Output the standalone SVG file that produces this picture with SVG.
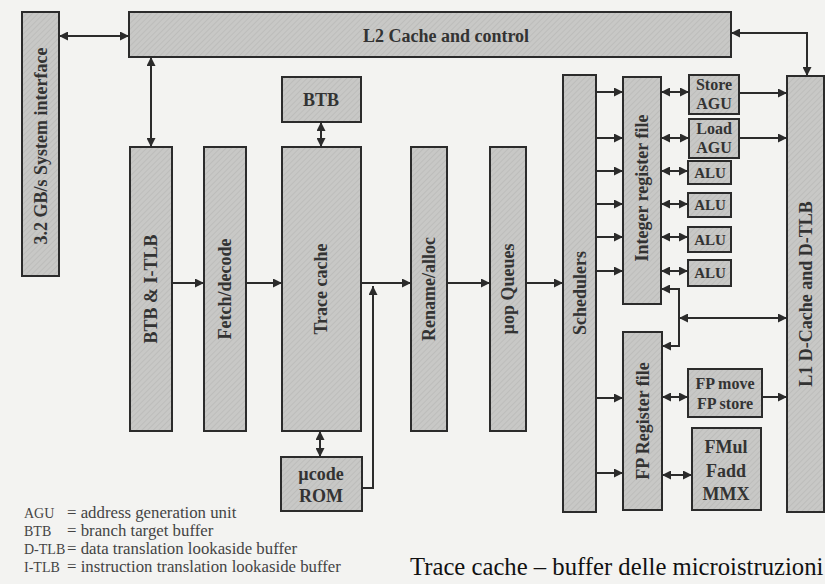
<svg xmlns="http://www.w3.org/2000/svg" width="825" height="584" viewBox="0 0 825 584">
<style>
.box{fill:url(#hatch);stroke:#2b2b2b;stroke-width:2}
.t{font-family:"Liberation Serif","Times New Roman",serif;font-weight:bold;font-size:18px;fill:#333;text-anchor:middle}
.s{font-size:15px}
.m{font-size:16px}
.c{stroke:#2b2b2b;stroke-width:2;fill:none}
.a1{marker-end:url(#ah)}
.a2{marker-start:url(#ah);marker-end:url(#ah)}
.leg{font-family:"Liberation Serif","Times New Roman",serif;font-size:16.8px;fill:#444}
.ab{font-size:14px}
.cap{font-family:"Liberation Serif","Times New Roman",serif;font-size:24.7px;fill:#111}
</style>
<defs>
<pattern id="hatch" width="4" height="4" patternUnits="userSpaceOnUse" patternTransform="rotate(45)">
<rect width="4" height="4" fill="#c8c8c6"/>
<line x1="0" y1="0" x2="0" y2="4" stroke="#b6b6b4" stroke-width="1.2"/>
</pattern>
<marker id="ah" viewBox="0 0 10 10" refX="10" refY="5" markerWidth="10" markerHeight="9" markerUnits="userSpaceOnUse" orient="auto-start-reverse">
<path d="M0,0 L10,5 L0,10 z" fill="#2b2b2b"/>
</marker>
</defs>
<rect width="825" height="584" fill="#f3f3f1"/>

<g id="sysif"><rect class="box" x="22" y="12" width="37" height="264"/><text class="t" transform="translate(41,146) rotate(-90)" dy="0.35em">3.2 GB/s System interface</text></g>
<g id="l2"><rect class="box" x="129" y="12" width="602" height="45"/><text class="t" x="446" y="42">L2 Cache and control</text></g>
<g id="btb"><rect class="box" x="282" y="77" width="79" height="45"/><text class="t" x="321" y="106">BTB</text></g>
<g id="itlb"><rect class="box" x="130" y="147" width="42" height="284"/><text class="t" transform="translate(151,289) rotate(-90)" dy="0.35em">BTB &amp; I-TLB</text></g>
<g id="fetch"><rect class="box" x="204" y="147" width="42" height="284"/><text class="t" transform="translate(225,289) rotate(-90)" dy="0.35em">Fetch/decode</text></g>
<g id="trace"><rect class="box" x="282" y="147" width="79" height="284"/><text class="t" transform="translate(321,289) rotate(-90)" dy="0.35em">Trace cache</text></g>
<g id="rom"><rect class="box" x="281" y="457" width="81" height="54"/><text class="t" x="321" y="480">µcode</text><text class="t" x="321" y="502">ROM</text></g>
<g id="rename"><rect class="box" x="411" y="147" width="36" height="284"/><text class="t" transform="translate(429,289) rotate(-90)" dy="0.35em">Rename/alloc</text></g>
<g id="queues"><rect class="box" x="490" y="147" width="36" height="284"/><text class="t" transform="translate(508,289) rotate(-90)" dy="0.35em">µop Queues</text></g>
<g id="sched"><rect class="box" x="563" y="75" width="33" height="437"/><text class="t" transform="translate(580,293) rotate(-90)" dy="0.35em">Schedulers</text></g>
<g id="intreg"><rect class="box" x="623" y="77" width="38" height="227"/><text class="t" transform="translate(642,188) rotate(-90)" dy="0.35em">Integer register file</text></g>
<g id="storeagu"><rect class="box" x="689" y="75" width="50" height="39"/><text class="t m" x="714" y="90">Store</text><text class="t m" x="714" y="109">AGU</text></g>
<g id="loadagu"><rect class="box" x="689" y="119" width="50" height="39"/><text class="t m" x="714" y="134">Load</text><text class="t m" x="714" y="153">AGU</text></g>
<g id="alu1"><rect class="box" x="688" y="161" width="43" height="23"/><text class="t s" x="710" y="178">ALU</text></g>
<g id="alu2"><rect class="box" x="688" y="193" width="43" height="24"/><text class="t s" x="710" y="210">ALU</text></g>
<g id="alu3"><rect class="box" x="688" y="227" width="43" height="25"/><text class="t s" x="710" y="245">ALU</text></g>
<g id="alu4"><rect class="box" x="688" y="260" width="43" height="26"/><text class="t s" x="710" y="278">ALU</text></g>
<g id="fpreg"><rect class="box" x="623" y="332" width="39" height="178"/><text class="t" transform="translate(643,421) rotate(-90)" dy="0.35em">FP Register file</text></g>
<g id="fpmove"><rect class="box" x="688" y="369" width="74" height="48"/><text class="t m" x="725" y="389">FP move</text><text class="t m" x="725" y="409">FP store</text></g>
<g id="fmul"><rect class="box" x="692" y="428" width="69" height="82"/><text class="t" x="726" y="453">FMul</text><text class="t" x="726" y="477">Fadd</text><text class="t" x="726" y="500">MMX</text></g>
<g id="l1"><rect class="box" x="787" y="76" width="37" height="436"/><text class="t" transform="translate(806,294) rotate(-90)" dy="0.35em">L1 D-Cache and D-TLB</text></g>

<g id="connectors">
<path class="c a2" d="M59,36 H129"/>
<path class="c a2" d="M151,57 V147"/>
<path class="c a2" d="M321,122 V147"/>
<path class="c a1" d="M172,283 H204"/>
<path class="c a1" d="M246,283 H282"/>
<path class="c a1" d="M361,283 H411"/>
<path class="c a1" d="M362,488 H373 V286"/>
<path class="c a2" d="M320,431 V457"/>
<path class="c a1" d="M447,283 H490"/>
<path class="c a1" d="M526,283 H563"/>
<path class="c a1" d="M596,92 H623"/>
<path class="c a1" d="M596,138 H623"/>
<path class="c a1" d="M596,171 H623"/>
<path class="c a1" d="M596,204 H623"/>
<path class="c a1" d="M596,237 H623"/>
<path class="c a1" d="M596,271 H623"/>
<path class="c a2" d="M661,92 H689"/>
<path class="c a2" d="M661,138 H689"/>
<path class="c a2" d="M661,171 H688"/>
<path class="c a2" d="M661,204 H688"/>
<path class="c a2" d="M661,237 H688"/>
<path class="c a2" d="M661,271 H688"/>
<path class="c a1" d="M739,93 H787"/>
<path class="c a1" d="M739,138 H787"/>
<path class="c a2" d="M731,33 H807 V76"/>
<path class="c a2" d="M661,289 H679 V346 H662"/>
<path class="c a2" d="M679,318 H787"/>
<path class="c a1" d="M596,398 H623"/>
<path class="c a1" d="M596,473 H623"/>
<path class="c a2" d="M662,397 H688"/>
<path class="c a2" d="M662,475 H692"/>
<path class="c a1" d="M762,397 H787"/>
</g>

<g id="legend">
<text class="leg ab" x="24" y="518">AGU</text><text class="leg" x="67" y="518">= address generation unit</text>
<text class="leg ab" x="24" y="536">BTB</text><text class="leg" x="67" y="536">= branch target buffer</text>
<text class="leg ab" x="24" y="554">D-TLB</text><text class="leg" x="67" y="554">= data translation lookaside buffer</text>
<text class="leg ab" x="24" y="572">I-TLB</text><text class="leg" x="67" y="572">= instruction translation lookaside buffer</text>
</g>
<text class="cap" x="410" y="575">Trace cache – buffer delle microistruzioni</text>
</svg>
